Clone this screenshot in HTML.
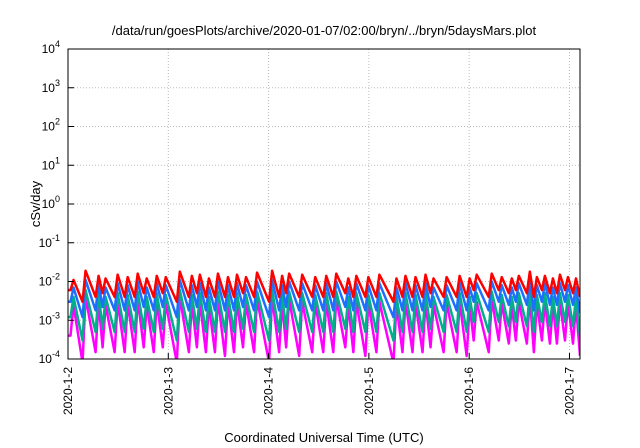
<!DOCTYPE html>
<html><head><meta charset="utf-8"><style>
body{margin:0;background:#fff;}
svg{display:block;font-family:"Liberation Sans",sans-serif;}
</style></head><body>
<svg id="chart" width="640" height="448" viewBox="0 0 640 448" xmlns="http://www.w3.org/2000/svg">
<text x="324" y="35" font-size="13" text-anchor="middle">/data/run/goesPlots/archive/2020-01-07/02:00/bryn/../bryn/5daysMars.plot</text>
<g id="grid"></g>
<g id="series"></g>
<rect x="68" y="49" width="512" height="310" fill="none" stroke="#000" stroke-width="1"/>
<g id="axes"></g>
<text transform="translate(40,204) rotate(-90)" font-size="13" text-anchor="middle">cSv/day</text>
<text x="324" y="442" font-size="13" text-anchor="middle">Coordinated Universal Time (UTC)</text>
</svg>
<script>
const xTickLabels=["2020-1-2","2020-1-3","2020-1-4","2020-1-5","2020-1-6","2020-1-7"];
const xTickDays=[0,1,2,3,4,5];
const yTickExps=[-4,-3,-2,-1,0,1,2,3,4];
const peakTimes=[0.04,0.16,0.29,0.36,0.48,0.58,0.68,0.77,0.87,0.96,1.10,1.22,1.30,1.39,1.48,1.58,1.67,1.76,1.87,2.02,2.12,2.19,2.32,2.45,2.56,2.66,2.78,2.86,2.98,3.09,3.26,3.35,3.45,3.55,3.63,3.76,3.89,3.99,4.06,4.21,4.31,4.41,4.48,4.59,4.66,4.74,4.82,4.89,4.97,5.05];
const redPeaks=[0.011,0.019,0.014,0.012,0.015,0.013,0.016,0.012,0.014,0.013,0.018,0.014,0.015,0.012,0.016,0.013,0.015,0.013,0.017,0.019,0.014,0.016,0.015,0.013,0.014,0.016,0.012,0.014,0.013,0.015,0.012,0.014,0.013,0.015,0.012,0.013,0.014,0.012,0.015,0.016,0.013,0.012,0.014,0.018,0.013,0.014,0.012,0.015,0.013,0.012];
const redTroughs=[0.006,0.003,0.004,0.005,0.004,0.004,0.004,0.005,0.004,0.005,0.003,0.004,0.005,0.004,0.004,0.004,0.004,0.005,0.004,0.003,0.004,0.005,0.004,0.004,0.004,0.004,0.005,0.004,0.004,0.004,0.003,0.004,0.004,0.004,0.005,0.004,0.004,0.004,0.006,0.004,0.006,0.005,0.006,0.005,0.004,0.006,0.005,0.005,0.006,0.005,0.004];
const bluePeaks=[0.007,0.011,0.009,0.007,0.009,0.008,0.010,0.007,0.009,0.008,0.011,0.008,0.009,0.007,0.010,0.008,0.009,0.008,0.010,0.011,0.008,0.010,0.009,0.008,0.009,0.010,0.007,0.009,0.008,0.009,0.007,0.009,0.008,0.009,0.007,0.008,0.009,0.007,0.009,0.010,0.008,0.007,0.009,0.011,0.008,0.009,0.007,0.009,0.008,0.007];
const blueTroughs=[0.003,0.0012,0.0018,0.0022,0.0018,0.0018,0.0018,0.0022,0.0018,0.0022,0.0012,0.0018,0.0022,0.0018,0.0018,0.0018,0.0018,0.0022,0.0018,0.0012,0.0018,0.0022,0.0018,0.0018,0.0018,0.0018,0.0022,0.0018,0.0018,0.0018,0.0012,0.0018,0.0018,0.0018,0.0022,0.0018,0.0018,0.0018,0.003,0.0018,0.003,0.0025,0.003,0.0025,0.0018,0.003,0.0025,0.0025,0.003,0.0025,0.0015];
const tealPeaks=[0.004,0.006,0.005,0.004,0.005,0.0045,0.0055,0.004,0.005,0.0045,0.006,0.0045,0.005,0.004,0.0055,0.0045,0.005,0.0045,0.0055,0.006,0.0045,0.0055,0.005,0.0045,0.005,0.0055,0.004,0.005,0.0045,0.005,0.004,0.005,0.0045,0.005,0.004,0.0045,0.005,0.004,0.005,0.0055,0.0045,0.004,0.005,0.006,0.0045,0.005,0.004,0.005,0.0045,0.004];
const tealTroughs=[0.0012,0.0003,0.0005,0.0006,0.0005,0.0005,0.0005,0.0006,0.0005,0.0006,0.0003,0.0005,0.0006,0.0005,0.0005,0.0005,0.0005,0.0006,0.0005,0.0003,0.0005,0.0006,0.0005,0.0005,0.0005,0.0005,0.0006,0.0005,0.0005,0.0005,0.0003,0.0005,0.0005,0.0005,0.0006,0.0005,0.0005,0.0005,0.0009,0.0005,0.0009,0.0007,0.0009,0.0007,0.0005,0.0009,0.0007,0.0007,0.0009,0.0007,0.0004];
const magentaPeaks=[0.0025,0.004,0.003,0.0025,0.003,0.0028,0.0035,0.0025,0.003,0.0028,0.004,0.0028,0.003,0.0025,0.0035,0.0028,0.003,0.0028,0.0035,0.004,0.0028,0.0035,0.003,0.0028,0.003,0.0035,0.0025,0.003,0.0028,0.003,0.0025,0.003,0.0028,0.003,0.0025,0.0028,0.003,0.0025,0.003,0.0035,0.0028,0.0025,0.003,0.004,0.0028,0.003,0.0025,0.003,0.0028,0.0025];
const magentaTroughs=[0.0004,0.00008,0.00015,0.0002,0.00015,0.00015,0.00015,0.0002,0.00015,0.0002,0.00008,0.00015,0.0002,0.00015,0.00015,0.00012,0.00015,0.0002,0.00015,0.00008,0.00015,0.0002,0.00012,0.00015,0.00015,0.00015,0.0002,0.00015,0.00012,0.00015,0.00008,0.00015,0.00015,0.00015,0.0002,0.00015,0.00015,0.00012,0.0003,0.00015,0.0003,0.00025,0.0003,0.00025,0.00015,0.0003,0.00025,0.00025,0.0003,0.00025,0.00012];
const X0=68,X1=580,Y0=359,Y1=49,dMax=5.105,eMin=-4,eMax=4;
function xs(d){return X0+(d/dMax)*(X1-X0);}
function ys(v){const e=Math.log10(v);return Y0-(Math.max(e,eMin-0.3)-eMin)/(eMax-eMin)*(Y0-Y1);}
const NS="http://www.w3.org/2000/svg";
function mk(t,a,p){const e=document.createElementNS(NS,t);for(const k in a)e.setAttribute(k,a[k]);p.appendChild(e);return e;}
const grid=document.getElementById('grid'),axes=document.getElementById('axes'),ser=document.getElementById('series');
yTickExps.forEach(e=>{const y=ys(Math.pow(10,e));
 if(e>eMin&&e<eMax){const g=mk('line',{x1:X0,x2:X1,y1:y,y2:y,stroke:'#bbb','stroke-dasharray':'1,2'},grid);
 
 }
 const t=mk('line',{x1:X0,x2:X0+6,y1:y,y2:y,stroke:'#000'},axes);
 
 
 const lb=mk('text',{x:X0-8,y:y+4,'font-size':12,'text-anchor':'end'},axes);
 
 
 lb.innerHTML='10<tspan dy="-6" font-size="9">'+e+'</tspan>';});
xTickDays.forEach((d,i)=>{const x=xs(d);
 if(d>0){const g=mk('line',{x1:x,x2:x,y1:Y0,y2:Y1,stroke:'#bbb','stroke-dasharray':'1,2'},grid);
 
 }
 const t=mk('line',{x1:x,x2:x,y1:Y0,y2:Y0-6,stroke:'#000'},axes);
 
 
 const lb=mk('text',{transform:'translate('+(x+4)+','+(Y0+8)+') rotate(-90)','font-size':12,'text-anchor':'end'},axes);
 
 
 lb.textContent=xTickLabels[i];});
const seriesDefs=[[magentaPeaks,magentaTroughs,'#ff00ff','magenta-series'],[tealPeaks,tealTroughs,'#00b08a','teal-series'],[bluePeaks,blueTroughs,'#1e6fff','blue-series'],[redPeaks,redTroughs,'#ff0000','red-series']];
const cp=mk('clipPath',{id:'clip'},mk('defs',{},document.getElementById('chart')));
mk('rect',{x:X0,y:Y1,width:X1-X0,height:Y0-Y1},cp);
seriesDefs.forEach(([pk,tr,col,name])=>{let pts=[[xs(0),ys(tr[0])]];
 peakTimes.forEach((t,i)=>{pts.push([xs(t)-1.5,ys(tr[i])]);pts.push([xs(t)+1.5,ys(pk[i])]);});
 pts.push([xs(dMax),ys(tr[tr.length-1])]);
 const p=mk('polyline',{points:pts.map(q=>q.join(',')).join(' '),fill:'none',stroke:col,'stroke-width':2.5,'stroke-linejoin':'round','clip-path':'url(#clip)'},ser);
 
 });
</script>
</body></html>
